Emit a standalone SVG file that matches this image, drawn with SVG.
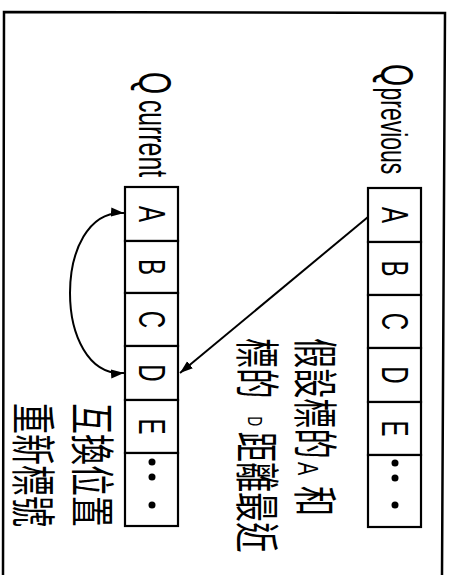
<svg xmlns="http://www.w3.org/2000/svg" width="449" height="575" viewBox="0 0 449 575">
<defs>
<marker id="ah" markerUnits="userSpaceOnUse" markerWidth="14" markerHeight="10" refX="13" refY="5" orient="auto-start-reverse"><path d="M0,0.5 L13,5 L0,9.5 z" fill="#000"/></marker>
</defs>
<style>
.cell{fill:#fff;stroke:#000;stroke-width:2.2}
.lt{font-family:"Liberation Sans",Arial,sans-serif;fill:#000}
.ch{font-family:"Liberation Sans",Arial,sans-serif;font-size:37px;fill:#000;text-anchor:middle}
.cj{font-family:"Liberation Sans","Noto Sans CJK TC",sans-serif;font-size:45px;fill:#000}
.conn{fill:none;stroke:#000;stroke-width:2}
.dot{fill:#000}
</style>
<rect width="449" height="575" fill="#fff"/>
<path id="frame" d="M3,575 L4,12 L445,13 L442,575" fill="none" stroke="#000" stroke-width="2.5"/>

<g id="q-previous">
<text class="lt" transform="translate(381,64) rotate(90) scale(0.62,1)"><tspan font-size="46">Q</tspan> <tspan x="38" font-size="37">previous</tspan></text>
<rect class="cell" x="368" y="188" width="53" height="54"/>
<rect class="cell" x="368" y="242" width="53" height="53"/>
<rect class="cell" x="368" y="295" width="53" height="53"/>
<rect class="cell" x="368" y="348" width="53" height="54"/>
<rect class="cell" x="368" y="402" width="53" height="53"/>
<rect class="cell" x="368" y="455" width="53" height="72"/>
<text class="ch" transform="translate(382,215) rotate(90) scale(0.65,1)">A</text>
<text class="ch" transform="translate(382,268.5) rotate(90) scale(0.65,1)">B</text>
<text class="ch" transform="translate(382,321.5) rotate(90) scale(0.65,1)">C</text>
<text class="ch" transform="translate(382,375) rotate(90) scale(0.65,1)">D</text>
<text class="ch" transform="translate(382,428.5) rotate(90) scale(0.65,1)">E</text>
<circle class="dot" cx="395" cy="463" r="3.5"/>
<circle class="dot" cx="395" cy="478" r="3.5"/>
<circle class="dot" cx="395" cy="505" r="3.5"/>
</g>

<g id="q-current">
<text class="lt" transform="translate(139,72) rotate(90) scale(0.62,1)"><tspan font-size="46">Q</tspan> <tspan x="45" font-size="40">current</tspan></text>
<rect class="cell" x="125" y="187" width="53" height="54"/>
<rect class="cell" x="125" y="241" width="53" height="52"/>
<rect class="cell" x="125" y="293" width="53" height="53"/>
<rect class="cell" x="125" y="346" width="53" height="54"/>
<rect class="cell" x="125" y="400" width="53" height="53"/>
<rect class="cell" x="125" y="453" width="53" height="73"/>
<text class="ch" transform="translate(138.5,214) rotate(90) scale(0.65,1)">A</text>
<text class="ch" transform="translate(138.5,267) rotate(90) scale(0.65,1)">B</text>
<text class="ch" transform="translate(138.5,319.5) rotate(90) scale(0.65,1)">C</text>
<text class="ch" transform="translate(138.5,373) rotate(90) scale(0.65,1)">D</text>
<text class="ch" transform="translate(138.5,426.5) rotate(90) scale(0.65,1)">E</text>
<circle class="dot" cx="152" cy="462" r="3.5"/>
<circle class="dot" cx="152" cy="477" r="3.5"/>
<circle class="dot" cx="152" cy="505" r="3.5"/>
</g>

<g id="note-closest">
<text class="cj" transform="translate(298,338) rotate(90) scale(0.67,1)">假設標的<tspan x="185" font-size="30">A</tspan><tspan x="221">和</tspan></text>
<text class="cj" transform="translate(240,338) rotate(90) scale(0.67,1)">標的<tspan x="117" dy="-8" font-size="20">D</tspan><tspan x="140" dy="8">距離最近</tspan></text>
</g>

<g id="note-swap">
<text class="cj" transform="translate(75,403) rotate(90) scale(0.69,1)">互換位置</text>
<text class="cj" transform="translate(16,403) rotate(90) scale(0.69,1)">重新標號</text>
</g>

<g id="connectors">
<path class="conn" d="M368,217 L180,373" marker-end="url(#ah)"/>
<path class="conn" d="M124,213 C52,208 52,378 124,373" marker-start="url(#ah)" marker-end="url(#ah)"/>
</g>
</svg>
